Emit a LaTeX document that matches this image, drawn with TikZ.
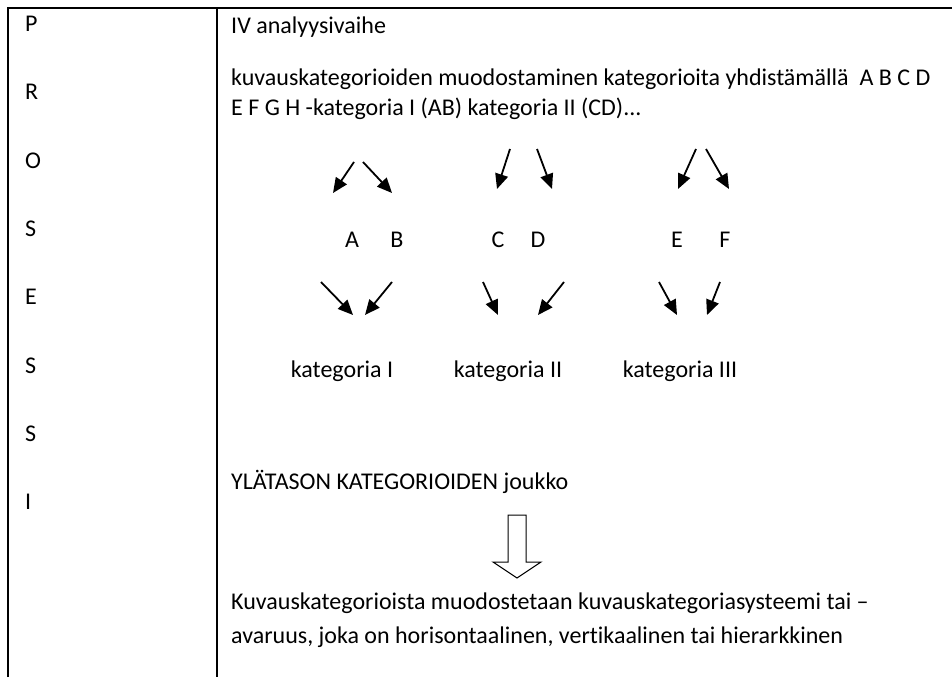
\documentclass[tikz,border=0pt]{standalone}
\usepackage{fontspec}
\setmainfont{Carlito}[Ligatures=NoCommon]
\usetikzlibrary{arrows.meta}

\begin{document}
\begin{tikzpicture}
	[%
	x=1pt, y=-1pt,%
	txt/.style   ={inner sep=0pt,	font=\fontsize{24}{29}\selectfont},%
	rowtxt/.style={txt,	anchor=base west},%
	pick/.style  ={-{Triangle[length=15pt, width=13pt]},	line width=1.8pt},%
	frame/.style ={line width=2.7pt},%
	]

	\newcommand\xprc{25}
	\newcommand\xtxt{231}

	\useasboundingbox (0,0) rectangle (952,677);

	% table frame
	\draw [frame] (8,677) -- (8,8) -- (952,8);
	\draw [frame] (217,8) -- (217,677);

	% left column
	\foreach \l [count=\i from 0] in {P,R,O,S,E,S,S,I}
		\node (prc\i) at (\xprc,24+68.3*\i) [txt, anchor=west] {\l};

	% right column, text lines
	\node (head)  at (\xtxt,34)  [rowtxt] {IV analyysivaihe};
	\node (intro) at (\xtxt,85)  [rowtxt] {kuvauskategorioiden muodostaminen kategorioita yhdistämällä~ A B C D};
	\node (introb) at (\xtxt,115) [rowtxt] {E F G H -kategoria I (AB) kategoria II (CD)...};

	\foreach \n/\x in {A/352, B/397, C/498, D/538, E/677, F/725}
		\node (let\n) at (\x,240) [txt] {\n};

	\foreach \n/\x/\t in {1/342/I, 2/508/II, 3/680/III}
		\node (cat\n) at (\x,377) [txt, anchor=base] {kategoria \t};

	\node (upper) at (\xtxt,489) [rowtxt] {YLÄTASON KATEGORIOIDEN joukko};
	\node (sysa)  at (\xtxt,609) [rowtxt] {Kuvauskategorioista muodostetaan kuvauskategoriasysteemi tai –};
	\node (sysb)  at (\xtxt,643) [rowtxt] {avaruus, joka on horisontaalinen, vertikaalinen tai hierarkkinen};

	% small arrows
	\foreach \n/\xa/\ya/\xb/\yb in {	1/354/162/333/193, 2/363/162/392/193, 3/510/149/497/189, %
												4/537/149/552/189, 5/696/149/678/189, 6/706/149/729/189, %
												7/321/282/353/315, 8/392/282/365/315, 9/483/282/498/315, %
												10/564/282/538/315, 11/659/282/677/315, 12/720/282/707/315%
												}
	{
		\coordinate (from\n) at (\xa,\ya);
		\coordinate (to\n) at (\xb,\yb);
		\draw [pick] (from\n) -- (to\n);
	}

	% hollow arrow
	\draw [line width=1pt, line join=miter] (508,515) -- (508,562) -- (493,562) -- (517,578) -- (541,562) -- (526,562) -- (526,515) -- cycle;

\end{tikzpicture}
\end{document}
